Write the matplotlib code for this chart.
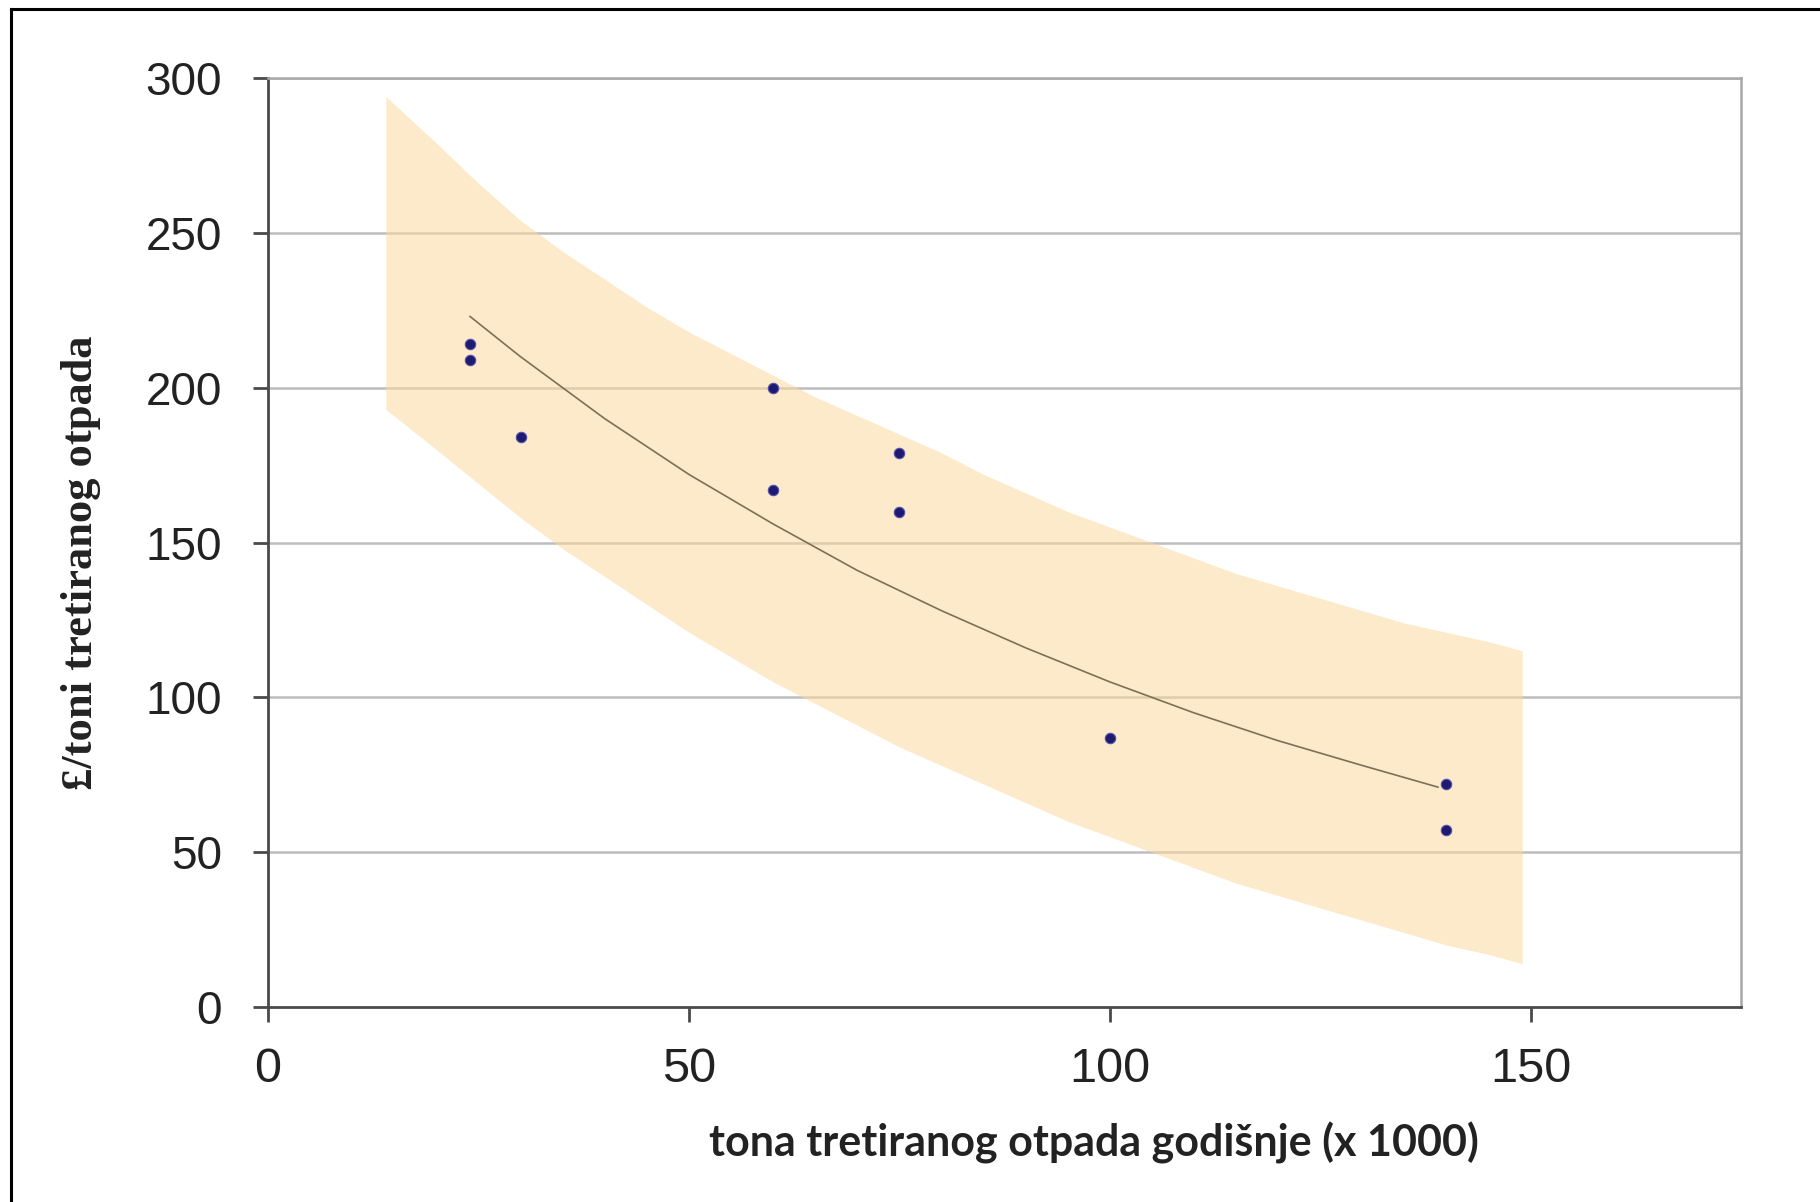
import matplotlib
matplotlib.use("Agg")
import matplotlib.pyplot as plt
from matplotlib.lines import Line2D

# measured points (x 1000 t/yr, GBP per tonne)
tonnage = [24, 24, 30, 60, 60, 75, 75, 100, 140, 140]
cost = [214, 209, 184, 200, 167, 179, 160, 87, 72, 57]

# trend line
trend_x = [24, 30, 35, 40, 50, 60, 70, 80, 90, 100, 110, 120, 130, 139]
trend_y = [223, 210, 200, 190, 172, 156, 141, 128, 116, 105, 95, 86, 78, 71]

# shaded range
band_x = [14, 20, 25, 30, 35, 40, 45, 50, 55, 60, 65, 70, 75, 80, 85, 90,
          95, 100, 105, 110, 115, 120, 125, 130, 135, 140, 145, 149]
band_hi = [294, 279, 266, 254, 244, 235, 226, 218, 211, 204, 197, 191, 185,
           179, 172, 166, 160, 155, 150, 145, 140, 136, 132, 128, 124, 121,
           118, 115]
band_lo = [193, 180, 169, 158, 148, 139, 130, 121, 113, 105, 98, 91, 84, 78,
           72, 66, 60, 55, 50, 45, 40, 36, 32, 28, 24, 20, 17, 14]

x_ticks = [0, 50, 100, 150]
y_ticks = [0, 50, 100, 150, 200, 250, 300]

fig = plt.figure(figsize=(18.2, 12.02), dpi=100)
ax = fig.add_axes([268 / 1820, 1 - 1007 / 1202, 1473 / 1820, 929 / 1202])

for yv in y_ticks[1:]:
    ax.axhline(yv, color="#bdbdbd", lw=1.8, zorder=1)

ax.fill_between(band_x, band_lo, band_hi, color="#fbd9a0", alpha=0.55,
                lw=0, zorder=2)
ax.plot(trend_x, trend_y, color="#7f6f55", lw=1.2, zorder=3)
ax.plot(tonnage, cost, "o", ms=7.5, color="#1e1a70", mec="#5550b0", mew=0.8,
        zorder=4)

ax.set_xlim(0, 175)
ax.set_ylim(0, 300)
ax.set_xticks(x_ticks)
ax.set_yticks(y_ticks)

for side in ["left", "bottom"]:
    ax.spines[side].set_color("#4a4a4a")
    ax.spines[side].set_linewidth(2.0)
for side in ["top", "right"]:
    ax.spines[side].set_color("#a8a8a8")
    ax.spines[side].set_linewidth(1.8)

ax.tick_params(axis="y", direction="out", length=11, width=2, color="#4a4a4a",
               pad=22, labelsize=33, labelcolor="#222222")
ax.tick_params(axis="x", direction="out", length=11, width=2, color="#4a4a4a",
               pad=18, labelsize=35, labelcolor="#222222")
for lab in ax.get_xticklabels() + ax.get_yticklabels():
    lab.set_fontfamily("Liberation Sans")

fig.text(1094 / 1820, 1 - 1143 / 1202, "tona tretiranog otpada godišnje (x 1000)",
         ha="center", va="center", fontsize=31, fontweight="bold",
         family="Lato", color="#222222")
fig.text(81 / 1820, 1 - 563 / 1202, "£/toni tretiranog otpada",
         ha="center", va="center", rotation=90, fontsize=32, fontweight="bold",
         family="Liberation Serif", color="#222222")

# outer frame: left and top edges only
fig.add_artist(Line2D([11 / 1820, 11 / 1820], [0, 1 - 9 / 1202],
                      color="black", lw=2.2, transform=fig.transFigure))
fig.add_artist(Line2D([11 / 1820, 1], [1 - 9 / 1202, 1 - 9 / 1202],
                      color="black", lw=2.2, transform=fig.transFigure))

fig.savefig("out.png", dpi=100, facecolor="white")
